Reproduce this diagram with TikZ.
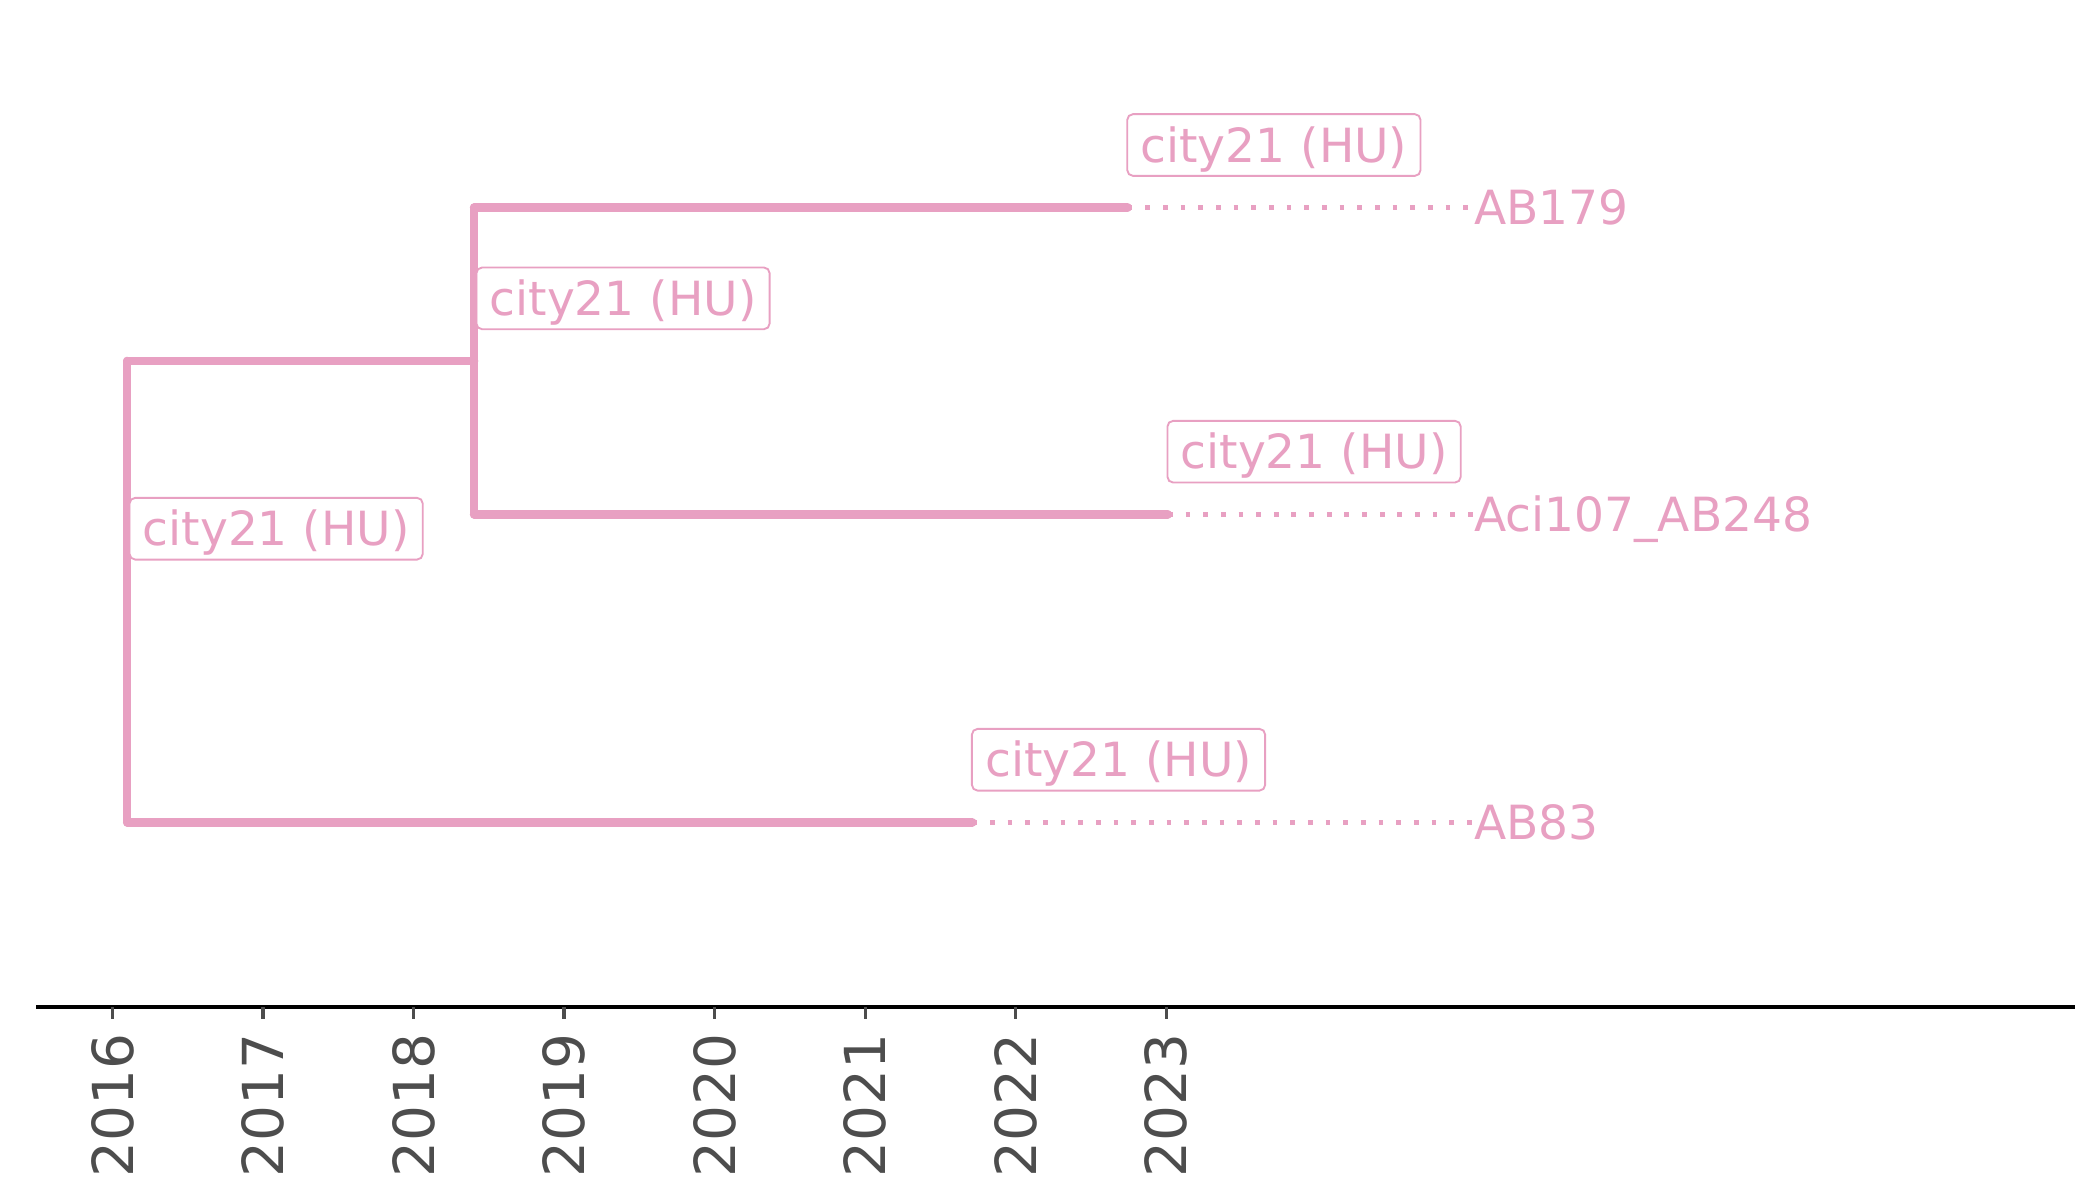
\documentclass[tikz,border=0pt]{standalone}
\usepackage{fontspec}
\setmainfont{DejaVu Sans}
\usetikzlibrary{calc}
\definecolor{pinkc}{RGB}{232,160,194}
\definecolor{tickgray}{RGB}{77,77,77}
\tikzset{
  branch/.style={draw=pinkc, line width=1.8pt, line cap=round},
  leader/.style={draw=pinkc, line width=1pt, dash pattern=on 1pt off 2.75pt},
  lbl/.style={draw=pinkc, line width=0.4pt, fill=white, fill opacity=0.9, text opacity=1,
    rounded corners=1.2pt, text=pinkc, font=\fontsize{10pt}{12pt}\selectfont,
    inner xsep=2.8pt, inner ysep=0pt, text height=10.2pt, text depth=2.9pt, anchor=south west},
  leaf/.style={text=pinkc, font=\fontsize{10pt}{12pt}\selectfont, inner sep=0pt,
    text height=7.29pt, text depth=0pt, anchor=west},
  ticklbl/.style={text=tickgray, font=\fontsize{12pt}{14pt}\selectfont, inner sep=0pt,
    text height=8.75pt, text depth=0pt, rotate=90, anchor=east},
  tickmark/.style={draw=tickgray, line width=0.7pt}
}
\begin{document}
\begin{tikzpicture}[x=0.01cm, y=-0.01cm]
\useasboundingbox (0,0) rectangle (1568,896);
% tree nodes
\coordinate (root) at (95,441.5);
\coordinate (n1) at (354,269.5);
\coordinate (e1) at (842,155);
\coordinate (e2) at (872,384);
\coordinate (e3) at (726,614);
% branches
\draw[branch] (root |- n1) -- (root |- e3);
\draw[branch] (root |- n1) -- (n1);
\draw[branch] (n1 |- e1) -- (n1 |- e2);
\draw[branch] (n1 |- e1) -- (e1);
\draw[branch] (n1 |- e2) -- (e2);
\draw[branch] (root |- e3) -- (e3);
% leaf labels
\node[leaf] (l1) at (1100,155) {AB179};
\node[leaf] (l2) at (1100,384) {Aci107\_AB248};
\node[leaf] (l3) at (1100,614) {AB83};
\draw[leader] (e1) -- (l1.west);
\draw[leader] (e2) -- (l2.west);
\draw[leader] (e3) -- (l3.west);
% location boxes
\node[lbl] (b1) at ($(e1)+(-1,-23)$) {city21 (HU)};
\node[lbl] (b2) at ($(n1)+(1,-23)$) {city21 (HU)};
\node[lbl] (b3) at ($(e2)+(-1,-23)$) {city21 (HU)};
\node[lbl] (b4) at ($(root)+(1,-23)$) {city21 (HU)};
\node[lbl] (b5) at ($(e3)+(-1,-23)$) {city21 (HU)};
% axis
\coordinate (axl) at (27,752);
\coordinate (axr) at (1549,752);
\draw[black, line width=0.85pt] (axl) -- (axr);
\foreach \yr [count=\i from 0] in {2016,...,2023} {
  \coordinate (t\yr) at ({84+112.4*\i},752);
  \draw[tickmark] (t\yr) -- ++(0,9);
  \node[ticklbl] (tl\yr) at ({84+112.4*\i},771) {\yr};
}
\end{tikzpicture}
\end{document}
